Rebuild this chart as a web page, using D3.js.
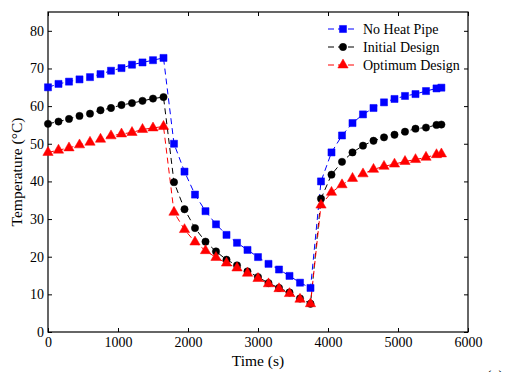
<!DOCTYPE html>
<html>
<head>
<meta charset="utf-8">
<script src="https://cdn.jsdelivr.net/npm/d3@7/dist/d3.min.js"></script>
<style>
  html, body { margin: 0; padding: 0; background: #fff; }
  svg { display: block; }
  text { font-family: "Liberation Serif", "Times New Roman", serif; fill: #000; }
</style>
</head>
<body>
<svg id="chart" width="517" height="372"></svg>
<script>
// ---- data ----
const time = [0, 150, 300, 450, 600, 750, 900, 1050, 1200, 1350, 1500, 1650,
  1800, 1950, 2100, 2250, 2400, 2550, 2700, 2850, 3000, 3150, 3300, 3450, 3600, 3750,
  3900, 4050, 4200, 4350, 4500, 4650, 4800, 4950, 5100, 5250, 5400, 5550, 5620];

const noHeatPipe = [65.0, 65.9, 66.5, 67.1, 67.7, 68.5, 69.4, 70.1, 71.0, 71.6, 72.2, 72.8,
  50.0, 42.6, 36.5, 32.1, 28.6, 25.8, 23.7, 21.8, 19.9, 18.1, 16.6, 14.9, 13.1, 11.7,
  40.0, 47.7, 52.2, 55.5, 57.8, 59.5, 61.0, 61.9, 62.7, 63.2, 64.0, 64.7, 64.9];

const initialDesign = [55.3, 55.9, 56.6, 57.4, 58.0, 58.9, 59.5, 60.3, 60.8, 61.4, 62.0, 62.4,
  39.8, 32.6, 27.6, 24.0, 21.4, 19.2, 17.7, 16.1, 14.6, 13.0, 11.7, 10.5, 8.9, 7.5,
  35.4, 41.8, 45.2, 47.7, 49.5, 50.8, 51.7, 52.4, 53.2, 54.0, 54.3, 55.0, 55.1];

const optimumDesign = [47.7, 48.3, 48.9, 49.7, 50.4, 51.2, 52.1, 52.6, 53.0, 53.8, 54.2, 54.6,
  31.8, 27.2, 23.9, 21.6, 19.8, 18.3, 17.0, 15.6, 14.2, 12.8, 11.5, 10.2, 8.7, 7.5,
  33.7, 37.1, 39.1, 40.8, 42.0, 43.2, 44.0, 44.6, 45.3, 45.8, 46.4, 47.1, 47.3];

const seriesNames = ["No Heat Pipe", "Initial Design", "Optimum Design"];
const xTicks = [0, 1000, 2000, 3000, 4000, 5000, 6000];
const yTicks = [0, 10, 20, 30, 40, 50, 60, 70, 80];

// ---- layout ----
const svg = d3.select("#chart");
const L = 48, R = 468, T = 12, B = 332;
const x = d3.scaleLinear().domain([0, 6000]).range([L, R]);
const y = d3.scaleLinear().domain([0, 85]).range([B, T]);

const series = [
  { name: seriesNames[0], values: noHeatPipe, color: "#0000ff", shape: d3.symbolSquare, size: 50 },
  { name: seriesNames[1], values: initialDesign, color: "#000000", shape: d3.symbolCircle, size: 42 },
  { name: seriesNames[2], values: optimumDesign, color: "#ff0000", shape: d3.symbolTriangle, size: 46 }
];

// axes
const fontTick = 14;
const gx = svg.append("g").attr("transform", `translate(0,${B})`)
  .call(d3.axisBottom(x).tickValues(xTicks).tickSize(-4).tickPadding(5).tickFormat(d3.format("d")));
const gy = svg.append("g").attr("transform", `translate(${L},0)`)
  .call(d3.axisLeft(y).tickValues(yTicks).tickSize(-4).tickPadding(4).tickFormat(d3.format("d")));
const gt = svg.append("g").attr("transform", `translate(0,${T})`)
  .call(d3.axisTop(x).tickValues(xTicks).tickSize(-4).tickFormat(""));
const gr = svg.append("g").attr("transform", `translate(${R},0)`)
  .call(d3.axisRight(y).tickValues(yTicks).tickSize(-4).tickFormat(""));
[gx, gy, gt, gr].forEach(g => {
  g.attr("font-family", null);
  g.select(".domain").remove();
  g.selectAll("line").attr("stroke", "#000").attr("stroke-width", 1);
  g.selectAll("text").attr("font-size", fontTick).attr("fill", "#000");
});

// box
svg.append("rect").attr("x", L).attr("y", T).attr("width", R - L).attr("height", B - T)
  .attr("fill", "none").attr("stroke", "#000").attr("stroke-width", 1.2);

// lines & markers
const line = d3.line().x((d, i) => x(time[i])).y(d => y(d));
series.forEach(s => {
  svg.append("path").datum(s.values).attr("d", line)
    .attr("fill", "none").attr("stroke", s.color).attr("stroke-width", 1)
    .attr("stroke-dasharray", "6,4");
});
series.forEach(s => {
  const sym = d3.symbol().type(s.shape).size(s.size);
  svg.append("g").selectAll("path").data(s.values).join("path")
    .attr("d", sym)
    .attr("transform", (d, i) => `translate(${x(time[i])},${y(d)})`)
    .attr("fill", s.color).attr("stroke", s.color).attr("stroke-width", 0.5);
});

// axis labels
svg.append("text").attr("x", (L + R) / 2).attr("y", 366).attr("text-anchor", "middle")
  .attr("font-size", 15.5).text("Time (s)");
svg.append("text").attr("transform", `translate(22,${(T + B) / 2}) rotate(-90)`)
  .attr("text-anchor", "middle").attr("font-size", 15.5).text("Temperature (°C)");

// legend
const lg = svg.append("g");
series.forEach((s, i) => {
  const ly = 29 + i * 18;
  lg.append("line").attr("x1", 328).attr("x2", 358).attr("y1", ly).attr("y2", ly)
    .attr("stroke", s.color).attr("stroke-width", 1).attr("stroke-dasharray", "6,4");
  lg.append("path").attr("d", d3.symbol().type(s.shape).size(s.size)())
    .attr("transform", `translate(343,${ly})`).attr("fill", s.color).attr("stroke", s.color).attr("stroke-width", 0.5);
  lg.append("text").attr("x", 363).attr("y", ly).attr("dy", "0.35em")
    .attr("font-size", 14).text(s.name);
});

// cropped caption at bottom (only its top shows in the reference)
svg.append("text").attr("x", 495).attr("y", 382).attr("text-anchor", "middle")
  .attr("font-size", 16).text("(a)");
</script>
</body>
</html>
